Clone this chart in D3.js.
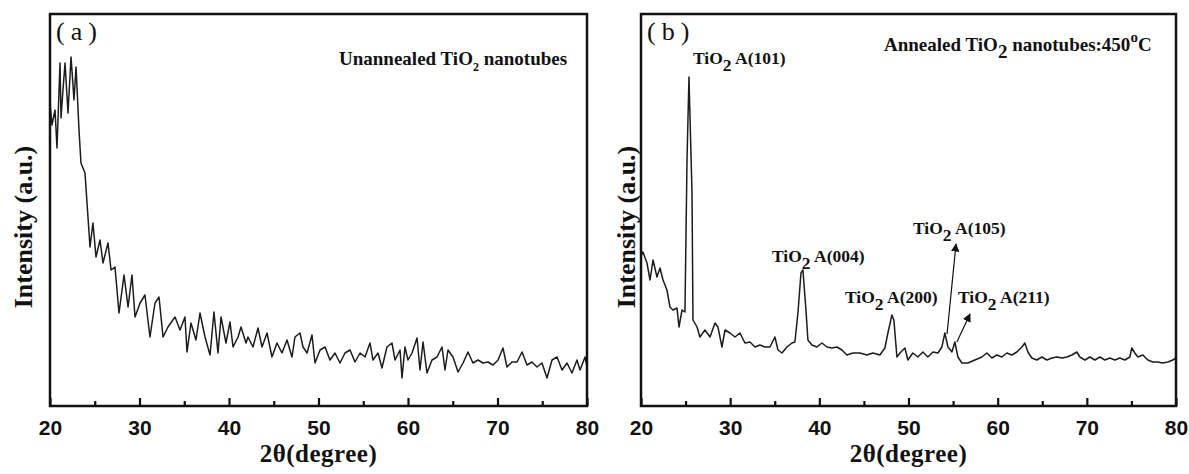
<!DOCTYPE html>
<html>
<head>
<meta charset="utf-8">
<script src="https://cdn.jsdelivr.net/npm/d3@7/dist/d3.min.js"></script>
<style>
  body { margin: 0; background: #fff; }
  text { fill: #111; }
</style>
</head>
<body>
<div id="chart"></div>
<script>
// (a) unannealed TiO2 nanotubes, 2theta vs intensity (a.u.)
var thetaA = [20.00,20.22,20.56,20.78,21.12,21.23,21.45,21.68,22.01,22.35,22.68,22.91,23.24,23.46,23.91,24.47,24.80,25.14,25.59,25.92,
  26.48,26.82,27.26,27.71,28.27,28.72,29.16,29.50,30.06,30.61,31.17,31.73,32.18,32.63,33.18,33.97,34.53,35.08,35.31,35.75,
  36.31,36.76,37.32,37.88,38.32,38.77,39.11,39.66,40.11,40.45,41.01,41.34,41.90,42.12,42.68,43.24,43.69,44.25,44.80,45.36,
  45.92,46.48,47.04,47.37,47.93,48.27,48.72,49.27,49.61,50.17,50.73,51.28,51.84,52.40,52.96,53.52,54.08,54.64,55.20,55.75,
  56.09,56.65,57.09,57.65,58.21,58.55,59.11,59.33,59.66,60.00,60.45,61.01,61.34,61.68,62.12,62.68,63.24,63.80,64.13,64.47,
  65.03,65.59,66.15,66.70,67.26,67.82,68.38,68.94,69.50,70.06,70.61,71.06,71.62,72.18,72.74,73.30,73.85,74.41,74.97,75.53,
  76.09,76.65,77.21,77.77,78.32,78.88,79.22,79.78,80.00];
var countsA = [303,281,296,258,343,288,316,343,293,349,306,339,276,243,233,159,183,149,166,143,
  163,136,139,93,131,99,131,89,103,111,69,103,109,69,79,89,76,89,54,83,
  66,93,69,51,94,53,89,63,84,59,69,79,63,69,59,78,59,73,49,63,
  53,66,49,69,73,59,53,71,43,56,59,46,53,43,53,56,44,53,49,63,
  46,53,38,59,63,46,56,28,59,46,53,68,36,64,33,46,49,59,36,56,
  49,34,43,54,43,46,43,44,41,46,58,39,44,44,54,41,44,39,43,28,
  46,49,36,43,33,46,36,49,39];

// (b) annealed at 450 C
var thetaB = [20.00,20.22,20.67,21.01,21.35,21.79,22.13,22.47,22.91,23.25,23.59,24.04,24.26,24.60,24.93,25.16,25.38,25.72,25.83,26.28,
  26.61,27.17,27.74,28.30,28.63,29.08,29.42,29.98,30.54,31.10,31.66,32.22,32.78,33.34,33.90,34.46,35.02,35.36,35.81,36.37,
  36.93,37.26,37.60,37.94,38.16,38.50,38.72,39.17,39.73,40.29,40.85,41.41,41.97,42.53,43.09,43.77,44.55,45.34,46.01,46.79,
  47.35,47.69,48.14,48.36,48.70,49.04,49.60,49.93,50.49,51.05,51.61,52.17,52.74,53.30,53.74,54.08,54.42,54.87,55.20,55.54,
  55.99,56.66,57.44,58.23,58.79,59.35,59.91,60.47,61.03,61.59,62.15,62.71,63.05,63.39,63.83,64.39,64.96,65.52,66.08,66.64,
  67.20,67.76,68.32,68.88,69.22,69.78,70.34,70.90,71.46,72.02,72.58,73.14,73.70,74.26,74.82,75.04,75.38,75.72,76.28,76.84,
  77.40,77.96,78.52,79.08,79.64,80.00];
var countsB = [150,154,143,126,146,129,138,126,116,99,96,98,79,96,94,246,329,213,86,79,
  69,76,69,83,79,59,76,73,69,73,63,64,59,61,59,59,69,56,53,59,
  63,64,93,133,136,96,66,61,59,63,59,58,59,56,51,53,53,51,53,51,
  58,73,91,86,49,53,58,46,53,49,54,49,54,53,59,73,59,54,64,49,
  43,43,46,49,53,48,51,49,53,51,54,59,63,54,48,46,49,46,48,49,
  48,49,51,54,49,46,49,46,49,46,48,46,48,46,49,58,53,49,51,46,
  44,44,43,44,46,48];

var majorTicks = [20, 30, 40, 50, 60, 70, 80];
var minorTicks = [25, 35, 45, 55, 65, 75];
var peakNames = ["A(101)", "A(004)", "A(200)", "A(105)", "A(211)"];
var peakTheta = [25.4, 38.0, 48.2, 54.1, 55.2];

var W = 1189, H = 474;
var plotTop = 14, plotBottom = 406;

var svg = d3.select("#chart").append("svg")
  .attr("width", W)
  .attr("height", H)
  .style("font-family", "'Liberation Serif', 'DejaVu Serif', serif");

var y = d3.scaleLinear().domain([0, 392]).range([plotBottom, plotTop]);

function drawPanel(left, right, theta, counts, tag, titleX) {
  var x = d3.scaleLinear().domain([20, 80]).range([left, right]);
  var g = svg.append("g");

  var line = d3.line()
    .x(function(d, i) { return x(theta[i]); })
    .y(function(d) { return y(d); });

  g.append("path")
    .datum(counts)
    .attr("d", line)
    .attr("fill", "none")
    .attr("stroke", "#1c1c1c")
    .attr("stroke-width", 1.5)
    .attr("stroke-linejoin", "round");

  // inward ticks
  var major = d3.axisBottom(x).tickValues(majorTicks).tickSizeInner(-8).tickSizeOuter(0).tickPadding(14);
  var minor = d3.axisBottom(x).tickValues(minorTicks).tickSizeInner(-5).tickSizeOuter(0).tickFormat("");
  var ax = g.append("g").attr("transform", "translate(0," + plotBottom + ")").call(major);
  g.append("g").attr("transform", "translate(0," + plotBottom + ")").call(minor)
    .select(".domain").remove();
  ax.select(".domain").remove();
  g.selectAll(".tick line").attr("stroke", "#111").attr("stroke-width", 2.2);
  ax.selectAll(".tick text")
    .style("font-family", "'Liberation Sans', Arial, sans-serif")
    .style("font-weight", "bold")
    .style("font-size", "21px")
    .attr("fill", "#111");

  g.append("rect")
    .attr("x", left).attr("y", plotTop)
    .attr("width", right - left).attr("height", plotBottom - plotTop)
    .attr("fill", "none").attr("stroke", "#111").attr("stroke-width", 2.5);

  g.append("text")
    .attr("x", (left + right) / 2).attr("y", 462)
    .attr("text-anchor", "middle")
    .style("font-weight", "bold").style("font-size", "25px")
    .style("letter-spacing", "0.5px")
    .text("2θ(degree)");

  g.append("text")
    .attr("transform", "translate(" + titleX + ",227) rotate(-90)")
    .attr("text-anchor", "middle")
    .style("font-weight", "bold").style("font-size", "26px")
    .text("Intensity (a.u.)");

  g.append("text")
    .attr("x", left + 6).attr("y", 40)
    .style("font-size", "26px").attr("fill", "#333")
    .style("letter-spacing", "6px")
    .text("(" + tag + ")");

  return x;
}

// label with subscript 2: "TiO" + "2" + rest
function tio2(x0, y0, rest, size) {
  var t = svg.append("text")
    .attr("x", x0).attr("y", y0)
    .style("font-weight", "bold")
    .style("font-size", size + "px");
  t.append("tspan").text("TiO");
  t.append("tspan").attr("dy", size * 0.4).text("2");
  t.append("tspan").attr("dy", -size * 0.4).text(rest);
  return t;
}

var xA = drawPanel(50, 587, thetaA, countsA, "a", 32);
var xB = drawPanel(641, 1176, thetaB, countsB, "b", 635);

// panel a caption
var capA = svg.append("text").attr("x", 339).attr("y", 65)
  .style("font-weight", "bold").style("font-size", "19px");
capA.append("tspan").text("Unannealed TiO");
capA.append("tspan").attr("dy", 6).style("font-size", "12px").text("2");
capA.append("tspan").attr("dy", -6).text(" nanotubes");

// panel b caption
var capB = svg.append("text").attr("x", 884).attr("y", 51)
  .style("font-weight", "bold").style("font-size", "19px");
capB.append("tspan").text("Annealed TiO");
capB.append("tspan").attr("dy", 7).text("2");
capB.append("tspan").attr("dy", -7).text(" nanotubes:450");
capB.append("tspan").attr("dy", -9).style("font-size", "15px").text("o");
capB.append("tspan").attr("dy", 9).text("C");

// peak labels
var labelPos = [[693, 64], [772, 262], [845, 303], [913, 234], [958, 303]];
peakNames.forEach(function(name, i) {
  tio2(labelPos[i][0], labelPos[i][1], " " + name, 17.5);
});

// arrows for (105) and (211)
svg.append("defs").append("marker")
  .attr("id", "arr").attr("viewBox", "0 0 10 10")
  .attr("refX", 9).attr("refY", 5)
  .attr("markerWidth", 7).attr("markerHeight", 7)
  .attr("orient", "auto")
  .append("path").attr("d", "M0,0L10,5L0,10z").attr("fill", "#111");

svg.append("line")
  .attr("x1", xB(peakTheta[3]) + 2).attr("y1", y(72))
  .attr("x2", 956).attr("y2", 244)
  .attr("stroke", "#111").attr("stroke-width", 1.2)
  .attr("marker-end", "url(#arr)");
svg.append("line")
  .attr("x1", xB(peakTheta[4]) + 2).attr("y1", y(64))
  .attr("x2", 970).attr("y2", 314)
  .attr("stroke", "#111").attr("stroke-width", 1.2)
  .attr("marker-end", "url(#arr)");
</script>
</body>
</html>
